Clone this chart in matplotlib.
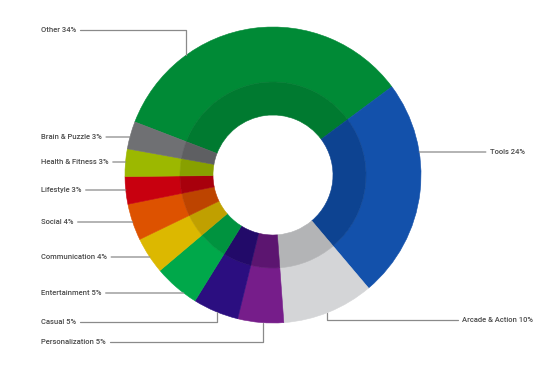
import matplotlib.pyplot as plt
import numpy as np

# data
categories = ["Other", "Tools", "Arcade & Action", "Personalization", "Casual",
              "Entertainment", "Communication", "Social", "Lifestyle",
              "Health & Fitness", "Brain & Puzzle"]
shares = [34, 24, 10, 5, 5, 5, 4, 4, 3, 3, 3]

outer_colors = ["#008a36", "#1351ab", "#d4d5d7", "#761d8a", "#2b0e80",
                "#00a84a", "#dcb800", "#dd5200", "#c8000f", "#9cb800", "#6f7073"]
inner_colors = ["#007a30", "#0d4391", "#b3b4b6", "#5c1570", "#220a69",
                "#00933f", "#c0a000", "#bd4400", "#a8000c", "#88a000", "#5e5f62"]

# layout of labels (pixel coords, y down): label x, label y, elbow x (None = straight)
label_layout = {
    "Other": (41, 30, 186),
    "Tools": (490, 152, None),
    "Arcade & Action": (462, 320, 327),
    "Personalization": (41, 342, 263),
    "Casual": (41, 322, 217),
    "Entertainment": (41, 293, None),
    "Communication": (41, 257, None),
    "Social": (41, 222, None),
    "Lifestyle": (41, 190, None),
    "Health & Fitness": (41, 162, None),
    "Brain & Puzzle": (41, 137, None),
}

W, H = 551, 373
cx, cy = 273, 175
R_out, R_mid, R_in = 148, 93, 60

fig = plt.figure(figsize=(W / 100, H / 100), dpi=100)
ax = fig.add_axes([0, 0, 1, 1])

center = (cx, H - cy)
w1, _ = ax.pie(shares, colors=outer_colors, radius=R_out, center=center, startangle=159,
               counterclock=False, frame=True,
               wedgeprops=dict(width=R_out - R_mid, linewidth=0.4))
w2, _ = ax.pie(shares, colors=inner_colors, radius=R_mid, center=center, startangle=159,
               counterclock=False, frame=True,
               wedgeprops=dict(width=R_mid - R_in, linewidth=0.4))
for w in list(w1) + list(w2):
    w.set_edgecolor(w.get_facecolor())

ax.set_xlim(0, W)
ax.set_ylim(0, H)
ax.set_aspect("equal")
ax.axis("off")

font = dict(family="Roboto", fontsize=5.5, color="#4a4a4a", fontweight="medium")

for cat, val in zip(categories, shares):
    lx, ly, ex = label_layout[cat]
    if ex is None:
        dx = np.sqrt(R_out**2 - (ly - cy)**2)
        px = cx + dx if lx > cx else cx - dx
        py = ly
        conn = "arc3"
    else:
        px = ex
        dy = np.sqrt(R_out**2 - (ex - cx)**2)
        py = cy - dy if ly < cy else cy + dy
        conn = "angle,angleA=0,angleB=90,rad=0"
    ax.annotate(f"{cat} {val}%", xy=(px, H - py), xytext=(lx, H - ly),
                ha="left", va="center", **font,
                arrowprops=dict(arrowstyle="-", color="#8a8a8a", lw=0.9,
                                connectionstyle=conn, shrinkA=1, shrinkB=0))

fig.savefig("out.png", dpi=100)
